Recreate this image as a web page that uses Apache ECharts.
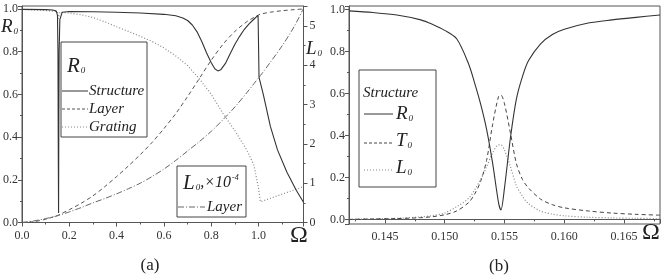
<!DOCTYPE html>
<html>
<head>
<meta charset="utf-8">
<script src="https://cdn.jsdelivr.net/npm/echarts@6/dist/echarts.min.js"></script>
<style>
  html, body { margin: 0; background: #fff; }
  #chart { width: 664px; height: 276px; }
</style>
</head>
<body>
<div id="chart"></div>
<script>
// ---- panel (a): full frequency range ----
const structOmega = [0, 0.1, 0.13, 0.145, 0.15, 0.152, 0.1535, 0.1546, 0.1555, 0.157,
  0.16, 0.17, 0.2, 0.3, 0.4, 0.5, 0.6, 0.65, 0.68, 0.7, 0.72, 0.74, 0.76, 0.78, 0.8,
  0.815, 0.828, 0.84, 0.86, 0.88, 0.9, 0.92, 0.94, 0.96, 0.98, 0.998, 1.002, 1.02,
  1.05, 1.08, 1.12, 1.16, 1.19];
const structR = [0.998, 0.997, 0.995, 0.99, 0.97, 0.8, 0.3, 0.045, 0.4, 0.8,
  0.95, 0.985, 0.988, 0.987, 0.985, 0.981, 0.975, 0.968, 0.958, 0.946, 0.925, 0.893, 0.848, 0.795, 0.748,
  0.72, 0.71, 0.715, 0.745, 0.79, 0.835, 0.872, 0.905, 0.93, 0.952, 0.97, 0.68, 0.6,
  0.45, 0.34, 0.235, 0.15, 0.095];

const omegaA = [0, 0.05, 0.1, 0.15, 0.1546, 0.16, 0.2, 0.25, 0.3, 0.35, 0.4, 0.45, 0.5,
  0.55, 0.6, 0.65, 0.7, 0.75, 0.8, 0.85, 0.9, 0.95, 0.98, 1.0, 1.008, 1.05, 1.1, 1.15, 1.19];
const layerR = [0, 0.004, 0.015, 0.033, 0.035, 0.038, 0.06, 0.09, 0.125, 0.168, 0.215, 0.265, 0.318,
  0.375, 0.44, 0.51, 0.59, 0.675, 0.76, 0.835, 0.895, 0.94, 0.96, 0.972, 0.976, 0.985, 0.992, 0.997, 1.0];
const gratingR = [0.998, 0.996, 0.993, 0.988, 0.955, 0.985, 0.981, 0.973, 0.96, 0.94, 0.917, 0.895, 0.872,
  0.848, 0.818, 0.78, 0.735, 0.673, 0.6, 0.51, 0.43, 0.34, 0.27, 0.16, 0.097, 0.113, 0.133, 0.152, 0.168];
const layerL = [0, 0.04, 0.1, 0.17, 0.18, 0.19, 0.27, 0.38, 0.5, 0.61, 0.73, 0.86, 1.0,
  1.17, 1.36, 1.58, 1.82, 2.06, 2.32, 2.62, 2.94, 3.3, 3.53, 3.68, 3.74, 4.08, 4.5, 4.98, 5.45];

// ---- panel (b): zoom around the first resonance ----
const omegaB = [0.142, 0.144, 0.146, 0.148, 0.149, 0.150, 0.151, 0.152, 0.1525, 0.153, 0.1535,
  0.154, 0.1545, 0.1547, 0.155, 0.1555, 0.156, 0.1565, 0.157, 0.158, 0.159, 0.160, 0.162, 0.164, 0.166, 0.168];
const r0B = [0.993, 0.985, 0.973, 0.95, 0.928, 0.9, 0.86, 0.74, 0.65, 0.55, 0.43,
  0.27, 0.08, 0.045, 0.15, 0.39, 0.575, 0.68, 0.755, 0.835, 0.88, 0.905, 0.935, 0.95, 0.962, 0.973];
const t0B = [0.0, 0.002, 0.004, 0.008, 0.013, 0.022, 0.04, 0.08, 0.12, 0.18, 0.28,
  0.45, 0.585, 0.592, 0.55, 0.41, 0.265, 0.19, 0.15, 0.097, 0.07, 0.055, 0.04, 0.03, 0.024, 0.02];
const l0B = [0.0, 0.003, 0.005, 0.012, 0.018, 0.03, 0.06, 0.1, 0.14, 0.19, 0.25,
  0.315, 0.355, 0.355, 0.33, 0.25, 0.16, 0.11, 0.075, 0.04, 0.025, 0.017, 0.01, 0.007, 0.005, 0.004];

const zip = (xs, ys) => xs.map((x, i) => [x, ys[i]]);

const serif = "'Liberation Serif', 'Times New Roman', serif";
const ink = '#333';
const axisCol = '#555';

function valAxis(extra) {
  return Object.assign({
    type: 'value',
    axisLine: { show: true, lineStyle: { color: axisCol, width: 1 } },
    axisTick: { show: true, length: 4, lineStyle: { color: axisCol } },
    minorTick: { show: true, splitNumber: 2, length: 2, lineStyle: { color: axisCol } },
    splitLine: { show: false },
    axisLabel: { color: ink, fontFamily: serif, fontSize: 12, showMaxLabel: false },
  }, extra);
}

function line(name, xi, yi, data, type, color, width, smooth) {
  return {
    name, type: 'line', xAxisIndex: xi, yAxisIndex: yi, data,
    showSymbol: false, symbol: 'none', smooth: smooth || false, animation: false,
    lineStyle: { color, width, type },
  };
}

// legend boxes and free text
const T = (text, x, y, size, opts) => ({
  type: 'text', z: 101, x, y,
  style: Object.assign({ text, fill: '#222', font: `italic ${size}px ${serif}`,
    textVerticalAlign: 'middle' }, opts || {}),
});
const L = (x1, x2, y, dash, color) => ({
  type: 'line', z: 101, shape: { x1, y1: y, x2, y2: y },
  style: { stroke: color || '#333', lineWidth: 1, lineDash: dash || null },
});
const box = (x, y, w, h) => ({
  type: 'rect', z: 100, shape: { x, y, width: w, height: h },
  style: { fill: '#fff', stroke: '#444', lineWidth: 1 },
});
const sub = { fontFamily: serif, fontStyle: 'italic', fontSize: 9, padding: [9, 0, 0, 1], fill: '#222' };

const chart = echarts.init(document.getElementById('chart'));
chart.setOption({
  animation: false,
  grid: [
    { left: 20, top: 6, width: 283.5, height: 216.5, show: true, borderColor: axisCol, borderWidth: 1 },
    { left: 349, top: 6, width: 311, height: 218, show: true, borderColor: axisCol, borderWidth: 1 },
  ],
  xAxis: [
    valAxis({ gridIndex: 0, min: 0, max: 1.19, interval: 0.2,
      axisLabel: { color: ink, fontFamily: serif, fontSize: 12, margin: 7, showMaxLabel: false,
        formatter: v => v.toFixed(1) } }),
    valAxis({ gridIndex: 1, min: 0.142, max: 0.168, minInterval: 0.005, maxInterval: 0.005,
      axisLabel: { color: ink, fontFamily: serif, fontSize: 12, margin: 7,
        showMinLabel: false, showMaxLabel: false, formatter: v => v.toFixed(3) } }),
  ],
  yAxis: [
    valAxis({ gridIndex: 0, min: 0, max: 1.014, interval: 0.2,
      axisLabel: { color: ink, fontFamily: serif, fontSize: 12, margin: 4, showMaxLabel: false,
        formatter: v => v.toFixed(1) } }),
    valAxis({ gridIndex: 0, position: 'right', min: 0, max: 5.51, interval: 1,
      axisLabel: { color: ink, fontFamily: serif, fontSize: 12, margin: 6, showMaxLabel: false,
        formatter: v => String(v) } }),
    valAxis({ gridIndex: 1, min: -0.022, max: 1.016, minInterval: 0.2, maxInterval: 0.2,
      axisLabel: { color: ink, fontFamily: serif, fontSize: 12, margin: 4,
        showMinLabel: false, showMaxLabel: false, formatter: v => v.toFixed(1) } }),
  ],
  series: [
    line('Grating', 0, 0, zip(omegaA, gratingR), [1, 2], '#888', 1.2),
    line('Layer', 0, 0, zip(omegaA, layerR), [4, 3], '#555', 1, 0.3),
    line('Layer L0', 0, 1, zip(omegaA, layerL), [6, 2, 1, 2], '#666', 1, 0.3),
    line('Structure', 0, 0, zip(structOmega, structR), 'solid', '#333', 1.1),
    line('L0', 1, 2, zip(omegaB, l0B), [1, 2], '#888', 1.2, 0.3),
    line('T0', 1, 2, zip(omegaB, t0B), [4, 3], '#444', 1, 0.3),
    line('R0', 1, 2, zip(omegaB, r0B), 'solid', '#333', 1.1, 0.3),
  ],
  graphic: [
    // axis names of panel (a)
    T('{a|R}{b|0}', 1, 27, 18, { rich: { a: { fontFamily: serif, fontStyle: 'italic', fontSize: 19, fill: '#222' }, b: sub } }),
    T('{a|L}{b|0}', 306, 49, 18, { rich: { a: { fontFamily: serif, fontStyle: 'italic', fontSize: 19, fill: '#222' }, b: sub } }),
    T('Ω', 299, 236, 24, { font: `24px ${serif}`, textAlign: 'center' }),
    T('Ω', 651, 233, 24, { font: `24px ${serif}`, textAlign: 'center' }),
    T('(a)', 150, 266, 17, { font: `17px ${serif}`, textAlign: 'center' }),
    T('(b)', 499, 267, 17, { font: `17px ${serif}`, textAlign: 'center' }),

    // R0 legend of panel (a)
    box(61, 42, 86, 95),
    T('{a|R}{b|0}', 67, 66, 20, { rich: { a: { fontFamily: serif, fontStyle: 'italic', fontSize: 21, fill: '#222' }, b: sub } }),
    L(62, 88, 91), T('Structure', 89, 91, 15),
    L(62, 88, 109, [3, 2], '#555'), T('Layer', 89, 109, 15),
    L(62, 88, 127, [1, 2], '#888'), T('Grating', 89, 127, 15),

    // L0 legend of panel (a)
    box(177, 166, 69, 51),
    T('{a|L}{b|0}{c|,×10}{d|-4}', 183, 183, 20, { rich: {
      a: { fontFamily: serif, fontStyle: 'italic', fontSize: 21, fill: '#222' }, b: sub,
      c: { fontFamily: serif, fontStyle: 'italic', fontSize: 16, fill: '#222' },
      d: { fontFamily: serif, fontStyle: 'italic', fontSize: 8, padding: [0, 0, 10, 1], fill: '#222' } } }),
    L(178, 205, 207, [6, 2, 1, 2], '#666'), T('Layer', 207, 207, 15),

    // legend of panel (b)
    box(359, 70, 77, 117),
    T('Structure', 363, 93, 15),
    L(364, 393, 114), T('{a|R}{b|0}', 396, 114, 18, { rich: { a: { fontFamily: serif, fontStyle: 'italic', fontSize: 19, fill: '#222' }, b: sub } }),
    L(364, 393, 143, [3, 2], '#444'), T('{a|T}{b|0}', 396, 141, 18, { rich: { a: { fontFamily: serif, fontStyle: 'italic', fontSize: 19, fill: '#222' }, b: sub } }),
    L(364, 393, 170, [1, 2], '#888'), T('{a|L}{b|0}', 396, 168, 18, { rich: { a: { fontFamily: serif, fontStyle: 'italic', fontSize: 19, fill: '#222' }, b: sub } }),
  ],
});
</script>
</body>
</html>
